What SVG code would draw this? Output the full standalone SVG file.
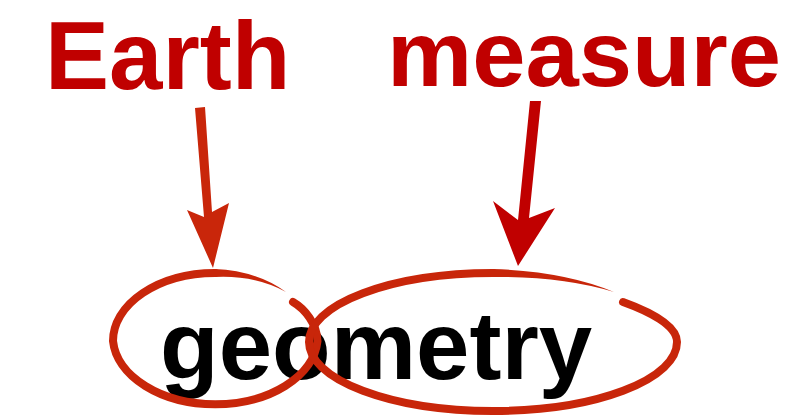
<svg xmlns="http://www.w3.org/2000/svg" width="809" height="416" viewBox="0 0 809 416">
<style>
.lbl{font-family:"Liberation Sans",Arial,sans-serif;font-weight:bold;font-size:96px;fill:#c00000}
.word{font-family:"Liberation Sans",Arial,sans-serif;font-weight:bold;font-size:96px;fill:#000}
.ring{fill:none;stroke:#c8260a;stroke-linecap:round}
.taper{fill:#c8260a;stroke:none}
</style>
<rect width="809" height="416" fill="#fff"/>
<g id="word-geometry"><text class="word" x="160" y="379">geometry</text></g>
<g id="label-earth"><text class="lbl" x="45" y="89">Earth</text></g>
<g id="label-measure"><text class="lbl" x="387" y="85.5" style="font-size:93.5px" textLength="394" lengthAdjust="spacingAndGlyphs">measure</text></g>
<g id="ring-geo">
<path class="ring" stroke-width="8" d="M293,302 C305,309 317,324 317.5,341 A102.5,68 0 0 1 113,341 A102.5,68 0 0 1 215,273"/>
<path class="taper" d="M215,269 A106.5,72 0 0 1 286,292 A98.5,64 0 0 0 215,277 Z"/>
</g>
<g id="ring-metry">
<path class="ring" stroke-width="8" d="M623,302 C648,311 677,325 677,342 A184,69 0 0 1 309,342 A184,69 0 0 1 493,273"/>
<path class="taper" d="M493,269 A188,73 0 0 1 614,292 A180,65 0 0 0 493,277 Z"/>
</g>
<g id="connectors">
<path fill="#c9260a" d="M195,108 L205,107 L212,212 L229,203 L213,268 L187,210 L204,217 Z"/>
<path fill="#c00000" d="M530,101 L541,101 L529,218 L555,208 L518,266 L493,201 L518,220 Z"/>
</g>
</svg>
